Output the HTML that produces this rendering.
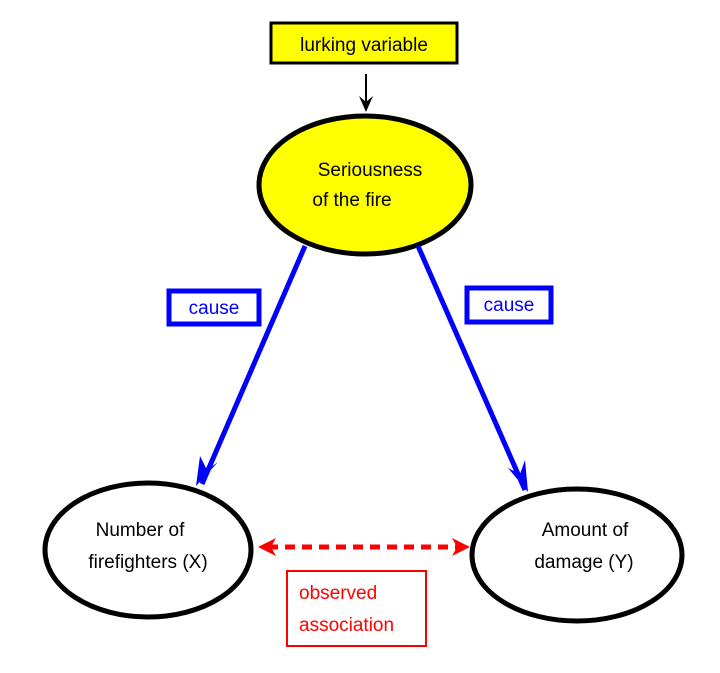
<!DOCTYPE html>
<html><head><style>body{margin:0;background:#fff}svg text{font-family:"Liberation Sans",sans-serif}</style></head><body>
<svg width="720" height="668" viewBox="0 0 720 668" xmlns="http://www.w3.org/2000/svg">
<rect x="271" y="23" width="186" height="40" fill="#ff0" stroke="#000" stroke-width="3"/>
<text x="364" y="51" font-size="19" text-anchor="middle" fill="#000">lurking variable</text>
<line x1="366" y1="74" x2="366" y2="108" stroke="#000" stroke-width="2"/>
<polygon points="359,96 366,112 373,96 366,102" fill="#000"/>
<ellipse cx="365" cy="185" rx="106" ry="69" fill="#ff0" stroke="#000" stroke-width="5"/>
<text x="370" y="176" font-size="19" text-anchor="middle">Seriousness</text>
<text x="352" y="206" font-size="19" text-anchor="middle">of the fire</text>
<line x1="305" y1="246" x2="202" y2="484" stroke="#00f" stroke-width="5"/>
<polygon points="196,486 200,456 207,470 218,462" fill="#00f"/>
<line x1="418" y1="246" x2="525" y2="490" stroke="#00f" stroke-width="5"/>
<polygon points="528,492 508,468 520,474 525,460" fill="#00f"/>
<rect x="169" y="291" width="90" height="33" fill="#fff" stroke="#00f" stroke-width="5"/>
<text x="214" y="314" font-size="19" text-anchor="middle" fill="#00f">cause</text>
<rect x="467" y="288" width="84" height="34" fill="#fff" stroke="#00f" stroke-width="5"/>
<text x="509" y="311" font-size="19" text-anchor="middle" fill="#00f">cause</text>
<ellipse cx="148" cy="550" rx="103" ry="67" fill="#fff" stroke="#000" stroke-width="5"/>
<text x="140" y="536" font-size="19" text-anchor="middle">Number of</text>
<text x="148" y="568" font-size="19" text-anchor="middle">firefighters (X)</text>
<ellipse cx="577" cy="555" rx="105" ry="66" fill="#fff" stroke="#000" stroke-width="5"/>
<text x="585" y="536" font-size="19" text-anchor="middle">Amount of</text>
<text x="584" y="568" font-size="19" text-anchor="middle">damage (Y)</text>
<line x1="268" y1="547" x2="460" y2="547" stroke="#f00" stroke-width="5" stroke-dasharray="10,7"/>
<polygon points="258,547 276,538 271,547 276,556" fill="#f00"/>
<polygon points="470,547 452,538 457,547 452,556" fill="#f00"/>
<rect x="287" y="571" width="139" height="75" fill="#fff" stroke="#f00" stroke-width="2"/>
<text x="299" y="599" font-size="19" fill="#f00">observed</text>
<text x="299" y="631" font-size="19" fill="#f00">association</text>
</svg>
</body></html>
